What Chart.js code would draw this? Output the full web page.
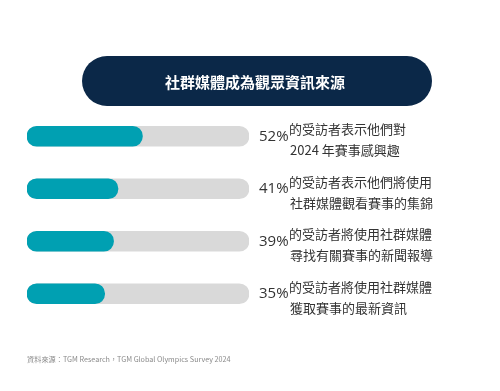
<!DOCTYPE html>
<html lang="zh-Hant">
<head>
    <meta charset="UTF-8">
    <title>社群媒體成為觀眾資訊來源</title>
    <script src="https://cdn.jsdelivr.net/npm/chart.js@4.4.0/dist/chart.umd.js"></script>
    <style>
        body { margin: 0; background: #ffffff; }
        #c { display: block; }
    </style>
</head>
<body>
    <canvas id="c" width="500" height="391"></canvas>
    <script>
        // data
        const categories = ['52%', '41%', '39%', '35%'];
        const values = [52, 41, 39, 35];
        const trackValues = [100, 100, 100, 100];
        const labelLines = [
            ['的受訪者表示他們對', '2024 年賽事感興趣'],
            ['的受訪者表示他們將使用', '社群媒體觀看賽事的集錦'],
            ['的受訪者將使用社群媒體', '尋找有關賽事的新聞報導'],
            ['的受訪者將使用社群媒體', '獲取賽事的最新資訊']
        ];
        const titleText = '社群媒體成為觀眾資訊來源';
        const sourceText = '資料來源：TGM Research，TGM Global Olympics Survey 2024';

        const cjk = '"Noto Sans CJK TC", "Noto Sans", sans-serif';

        const decor = {
            id: 'decor',
            afterDraw(chart) {
                const ctx = chart.ctx;
                const yScale = chart.scales.y;
                ctx.save();

                // title pill
                const px = 82, py = 56, pw = 350, ph = 50;
                ctx.fillStyle = '#0b2848';
                ctx.beginPath();
                ctx.roundRect(px, py, pw, ph, ph / 2);
                ctx.fill();
                ctx.fillStyle = '#ffffff';
                ctx.font = 'bold 15px ' + cjk;
                ctx.textAlign = 'center';
                ctx.textBaseline = 'middle';
                ctx.fillText(titleText, px + pw / 2 - 2, py + ph / 2 + 1);

                // labels beside the bars
                ctx.fillStyle = '#333333';
                categories.forEach(function(cat, i) {
                    const y = yScale.getPixelForValue(i);
                    ctx.textAlign = 'left';
                    ctx.textBaseline = 'middle';
                    ctx.font = '15px "Open Sans", sans-serif';
                    ctx.fillText(cat, 259, y);
                    ctx.font = '13px ' + cjk;
                    ctx.fillText(labelLines[i][0], 289, y - 7);
                    ctx.fillText(labelLines[i][1], 290, y + 14);
                });

                // source
                ctx.fillStyle = '#8a8a8a';
                ctx.font = '7.2px ' + cjk;
                ctx.textAlign = 'left';
                ctx.fillText(sourceText, 27, 359);
                ctx.restore();
            }
        };

        new Chart(document.getElementById('c'), {
            type: 'bar',
            data: {
                labels: categories,
                datasets: [{
                    data: values,
                    backgroundColor: '#00a0b2',
                    grouped: false,
                    barThickness: 20,
                    borderRadius: 10,
                    borderSkipped: false
                }, {
                    data: trackValues,
                    backgroundColor: '#d9d9d9',
                    grouped: false,
                    barThickness: 20,
                    borderRadius: 10,
                    borderSkipped: false
                }]
            },
            options: {
                indexAxis: 'y',
                responsive: false,
                animation: false,
                layout: { padding: { left: 27, right: 251, top: 110, bottom: 71 } },
                plugins: { legend: { display: false }, tooltip: { enabled: false } },
                scales: {
                    x: { min: 0, max: 100, display: false },
                    y: { display: false }
                }
            },
            plugins: [decor]
        });
    </script>
</body>
</html>
